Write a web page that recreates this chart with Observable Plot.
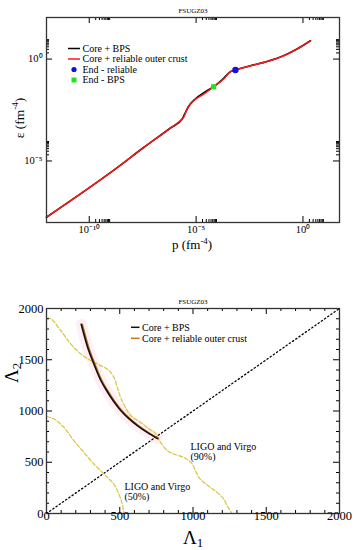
<!DOCTYPE html>
<html><head><meta charset="utf-8">
<script src="https://cdn.jsdelivr.net/npm/d3@7"></script>
<script src="https://cdn.jsdelivr.net/npm/@observablehq/plot@0.6"></script>
<style>
body{margin:0;background:#fff;}
#wrap{position:relative;width:357px;height:550px;overflow:hidden;font-family:"Liberation Serif","Times New Roman",serif;}
#wrap svg{display:block;overflow:visible;}
#wrap svg text{font-family:"Liberation Serif","Times New Roman",serif;}
.overlay{position:absolute;left:0;top:0;pointer-events:none;}
</style></head><body><div id="wrap"></div>
<script>
// ---------- Top panel data (log10 values) ----------
const title = "FSUGZ03";
const bpsLogP = [-12.0, -8.77, -7.44, -6.20, -5.65, -5.55, -5.36, -5.03, -4.56, -4.18, -3.77, -3.40, -3.16, -2.46, -1.68, -0.91, -0.28, 0.35];
const bpsLogE = [-7.76, -5.39, -4.33, -3.38, -2.94, -2.73, -2.34, -1.95, -1.60, -1.36, -1.01, -0.62, -0.54, -0.33, -0.12, 0.16, 0.49, 0.90];
const relLogP = [-12.0, -8.77, -7.44, -6.20, -5.65, -5.58, -5.42, -5.11, -4.64, -4.18, -3.71, -3.40, -3.16, -2.46, -1.68, -0.91, -0.28, 0.35];
const relLogE = [-7.76, -5.39, -4.33, -3.38, -2.94, -2.86, -2.45, -2.04, -1.72, -1.36, -0.98, -0.62, -0.54, -0.33, -0.12, 0.16, 0.49, 0.90];
const endReliableLog = [-3.16, -0.54];
const endBpsLog = [-4.18, -1.36];
const topXLabelExp = [-10, -5, 0];
const topYLabelExp = [-5, 0];
const minorMult = [2, 3, 4, 5, 6, 7, 8, 9];
const topXDomainLog = [-12, 1.71];
const topYDomainLog = [-8.02, 2.04];
const topLegend = ["Core + BPS", "Core + reliable outer crust", "End - reliable", "End - BPS"];

// ---------- Bottom panel data ----------
const bpsL1 = [237, 280, 323, 370, 414, 460, 505, 562, 620, 690, 758];
const bpsL2 = [1846, 1625, 1460, 1300, 1190, 1090, 1008, 926, 858, 789, 731];
const relL1 = [244, 287, 330, 377, 421, 467, 512, 569, 627, 697, 764];
const relL2 = [1846, 1625, 1460, 1300, 1190, 1090, 1008, 926, 858, 789, 731];
const ligo90L1 = [0, 27, 96, 164, 232, 300, 369, 425, 459, 483, 505, 539, 573, 642, 698, 744, 778, 824, 869, 937, 971, 995, 1017, 1040, 1074, 1119, 1165, 1210, 1233, 1256, 1263];
const ligo90L2 = [1902, 1902, 1788, 1657, 1560, 1494, 1445, 1396, 1331, 1233, 1135, 1037, 956, 890, 826, 780, 695, 614, 581, 548, 516, 483, 417, 352, 303, 254, 205, 141, 75, 26, 0];
const ligo50L1 = [0, 50, 118, 186, 255, 323, 391, 459, 494, 517, 528];
const ligo50L2 = [946, 924, 842, 712, 597, 484, 386, 288, 190, 92, 0];
const diagL = [0, 2000];
const annoText = ["LIGO and Virgo\n(90%)", "LIGO and Virgo\n(50%)"];
const annoL1 = [983, 532];
const annoL2 = [604, 212];
const botMajor = [0, 500, 1000, 1500, 2000];
const botMinorStep = 100;
const botLegend = ["Core + BPS", "Core + reliable outer crust"];

// ---------- helpers ----------
const SUP = {"-":"\u207B","0":"\u2070","1":"\u00B9","2":"\u00B2","3":"\u00B3","4":"\u2074","5":"\u2075","6":"\u2076","7":"\u2077","8":"\u2078","9":"\u2079"};
const sup = n => String(n).split("").map(c => SUP[c]).join("");
const FONT = '"Liberation Serif", "Times New Roman", serif';
const W = 357, ML = 46, MR = 18;
const FW = W - ML - MR;

const wrap = document.getElementById("wrap");

// ---------- Top plot ----------
const TH = 270, TMT = 17, TMB = 48, TFH = TH - TMT - TMB;
const bpsRows = bpsLogP.map((p, i) => ({p: 10 ** p, e: 10 ** bpsLogE[i]}));
const relRows = relLogP.map((p, i) => ({p: 10 ** p, e: 10 ** relLogE[i]}));
const xMajorT = topXLabelExp.map(k => 10 ** k);
const xMinorT = topXLabelExp.flatMap(k => minorMult.map(m => m * 10 ** k));
const yMajorT = topYLabelExp.map(k => 10 ** k);
const yMinorT = topYLabelExp.flatMap(k => minorMult.map(m => m * 10 ** k));
const MAJ = 6, MIN = 3;

function boxTicks(xMaj, xMin, yMaj, yMin, fh) {
  const o = {stroke: "#000", strokeWidth: 1};
  return [
    Plot.tickX(xMaj, {x: d => d, insetTop: fh - MAJ, ...o}),
    Plot.tickX(xMin, {x: d => d, insetTop: fh - MIN, ...o}),
    Plot.tickX(xMaj, {x: d => d, insetBottom: fh - MAJ, ...o}),
    Plot.tickX(xMin, {x: d => d, insetBottom: fh - MIN, ...o}),
    Plot.tickY(yMaj, {y: d => d, insetRight: FW - MAJ, ...o}),
    Plot.tickY(yMin, {y: d => d, insetRight: FW - MIN, ...o}),
    Plot.tickY(yMaj, {y: d => d, insetLeft: FW - MAJ, ...o}),
    Plot.tickY(yMin, {y: d => d, insetLeft: FW - MIN, ...o})
  ];
}

const topPlot = Plot.plot({
  width: W, height: TH, marginLeft: ML, marginRight: MR, marginTop: TMT, marginBottom: TMB,
  x: {type: "log", domain: topXDomainLog.map(v => 10 ** v), axis: null},
  y: {type: "log", domain: topYDomainLog.map(v => 10 ** v), axis: null},
  style: {fontFamily: FONT, background: "transparent", color: "#000", overflow: "visible"},
  marks: [
    Plot.line(bpsRows, {x: "p", y: "e", stroke: "#000", strokeWidth: 1.7, curve: "monotone-x"}),
    Plot.line(relRows, {x: "p", y: "e", stroke: "#ff1a1a", strokeWidth: 1.4, curve: "monotone-x"}),
    Plot.dot([endBpsLog], {x: d => 10 ** d[0], y: d => 10 ** d[1], symbol: "square", r: 2.9, fill: "#1ee61e"}),
    Plot.dot([endReliableLog], {x: d => 10 ** d[0], y: d => 10 ** d[1], r: 3.2, fill: "#1010e0"}),
    ...boxTicks(xMajorT, xMinorT, yMajorT, yMinorT, TFH),
    Plot.frame({stroke: "#333", strokeWidth: 1.3}),
    Plot.text(topXLabelExp, {x: d => 10 ** d, text: d => "10" + sup(d), frameAnchor: "bottom", dy: 10, fontSize: 10.5}),
    Plot.text(topYLabelExp, {y: d => 10 ** d, text: d => "10" + sup(d), frameAnchor: "left", textAnchor: "end", dx: -4, fontSize: 10.5}),
    Plot.text([title], {text: d => d, frameAnchor: "top", dy: -9, fontSize: 7})
  ]
});
wrap.appendChild(topPlot);

// ---------- Bottom plot ----------
const BH = 280, BMT = 38, BMB = 37, BFH = BH - BMT - BMB;
const bpsLRows = bpsL1.map((v, i) => ({a: v, b: bpsL2[i]}));
const relLRows = relL1.map((v, i) => ({a: v, b: relL2[i]}));
const l90Rows = ligo90L1.map((v, i) => ({a: v, b: ligo90L2[i]}));
const l50Rows = ligo50L1.map((v, i) => ({a: v, b: ligo50L2[i]}));
const diagRows = diagL.map(v => ({a: v, b: v}));
const botMinor = d3.range(0, 2001, botMinorStep).filter(v => !botMajor.includes(v));
const annoRows = annoText.map((t, i) => ({t, a: annoL1[i], b: annoL2[i]}));

const botPlot = Plot.plot({
  width: W, height: BH, marginLeft: ML, marginRight: MR, marginTop: BMT, marginBottom: BMB,
  x: {domain: [0, 2000], axis: null},
  y: {domain: [0, 2000], axis: null},
  style: {fontFamily: FONT, background: "transparent", color: "#000", overflow: "visible"},
  marks: [
    Plot.line(bpsLRows, {x: "a", y: "b", stroke: "#fdf0f4", strokeWidth: 11, curve: "monotone-x"}),
    Plot.line(diagRows, {x: "a", y: "b", stroke: "#000", strokeWidth: 1.3, strokeDasharray: "1.3,2.6"}),
    Plot.line(l90Rows, {x: "a", y: "b", stroke: "#d8c43c", strokeWidth: 1.2, strokeDasharray: "4,2", curve: "catmull-rom"}),
    Plot.line(l50Rows, {x: "a", y: "b", stroke: "#d8c43c", strokeWidth: 1.2, strokeDasharray: "4,2", curve: "catmull-rom"}),
    Plot.line(relLRows, {x: "a", y: "b", stroke: "#b8691e", strokeWidth: 1.6, curve: "monotone-x"}),
    Plot.line(bpsLRows, {x: "a", y: "b", stroke: "#1a0e08", strokeWidth: 1.6, curve: "monotone-x"}),
    ...boxTicks(botMajor, botMinor, botMajor, botMinor, BFH),
    Plot.frame({stroke: "#333", strokeWidth: 1.3}),
    Plot.text(annoRows, {x: "a", y: "b", text: "t", textAnchor: "start", lineAnchor: "middle", lineHeight: 1.05, fontSize: 10}),
    Plot.text(botMajor, {x: d => d, text: d => String(d), frameAnchor: "bottom", dy: 6.5, fontSize: 12.5}),
    Plot.text(botMajor, {y: d => d, text: d => String(d), frameAnchor: "left", textAnchor: "end", dx: -3, fontSize: 12.5}),
    Plot.text([title], {text: d => d, frameAnchor: "top", dy: -9, fontSize: 7})
  ]
});
wrap.appendChild(botPlot);

// ---------- Axis labels with super/subscripts ----------
function richLabel(svg, x, y, rotate, size, parts) {
  const t = d3.select(svg).append("text")
    .attr("transform", `translate(${x},${y})` + (rotate ? ` rotate(${rotate})` : ""))
    .attr("text-anchor", "middle").style("font-family", FONT).attr("font-size", size).attr("fill", "#000");
  parts.forEach(([s, kind]) => {
    const ts = t.append("tspan").text(s);
    if (kind === "sup") ts.attr("font-size", size * 0.68).attr("dy", -size * 0.42);
    else if (kind === "sub") ts.attr("font-size", size * 0.68).attr("dy", size * 0.15);
    else if (kind === "back-sup") ts.attr("dy", size * 0.42);
  });
}
richLabel(topPlot, 192, 249, 0, 13, [["p (fm"], ["-4", "sup"], [")", "back-sup"]]);
richLabel(topPlot, 24, 118, -90, 13.5, [["\u03B5 (fm"], ["-4", "sup"], [")", "back-sup"]]);
richLabel(botPlot, 193, 274, 0, 19, [["\u039B"], ["1", "sub"]]);
richLabel(botPlot, 18, 103, -90, 19, [["\u039B"], ["2", "sub"]]);

// ---------- Legends (overlay) ----------
const ov = d3.select(wrap).append("svg").attr("class", "overlay").attr("width", W).attr("height", 550)
  .style("font-family", FONT).attr("font-size", 10);
function legendRow(x0, x1, y, label, kind, color) {
  if (kind === "line") ov.append("line").attr("x1", x0).attr("x2", x1).attr("y1", y).attr("y2", y).attr("stroke", color).attr("stroke-width", 1.5);
  if (kind === "dot") ov.append("circle").attr("cx", (x0 + x1) / 2).attr("cy", y).attr("r", 2.6).attr("fill", color);
  if (kind === "square") ov.append("rect").attr("x", (x0 + x1) / 2 - 2.5).attr("y", y - 2.5).attr("width", 5).attr("height", 5).attr("fill", color);
  ov.append("text").attr("x", x1 + 2.5).attr("y", y).attr("dy", "0.33em").style("font-family", FONT).text(label);
}
legendRow(68, 80, 48.5, topLegend[0], "line", "#000");
legendRow(68, 80, 59, topLegend[1], "line", "#ff1a1a");
legendRow(68, 80, 69.5, topLegend[2], "dot", "#1010e0");
legendRow(68, 80, 80, topLegend[3], "square", "#1ee61e");
legendRow(131, 139.5, 327.3, botLegend[0], "line", "#1a0e08");
legendRow(131, 139.5, 338.3, botLegend[1], "line", "#c87a20");
</script>
</body></html>
